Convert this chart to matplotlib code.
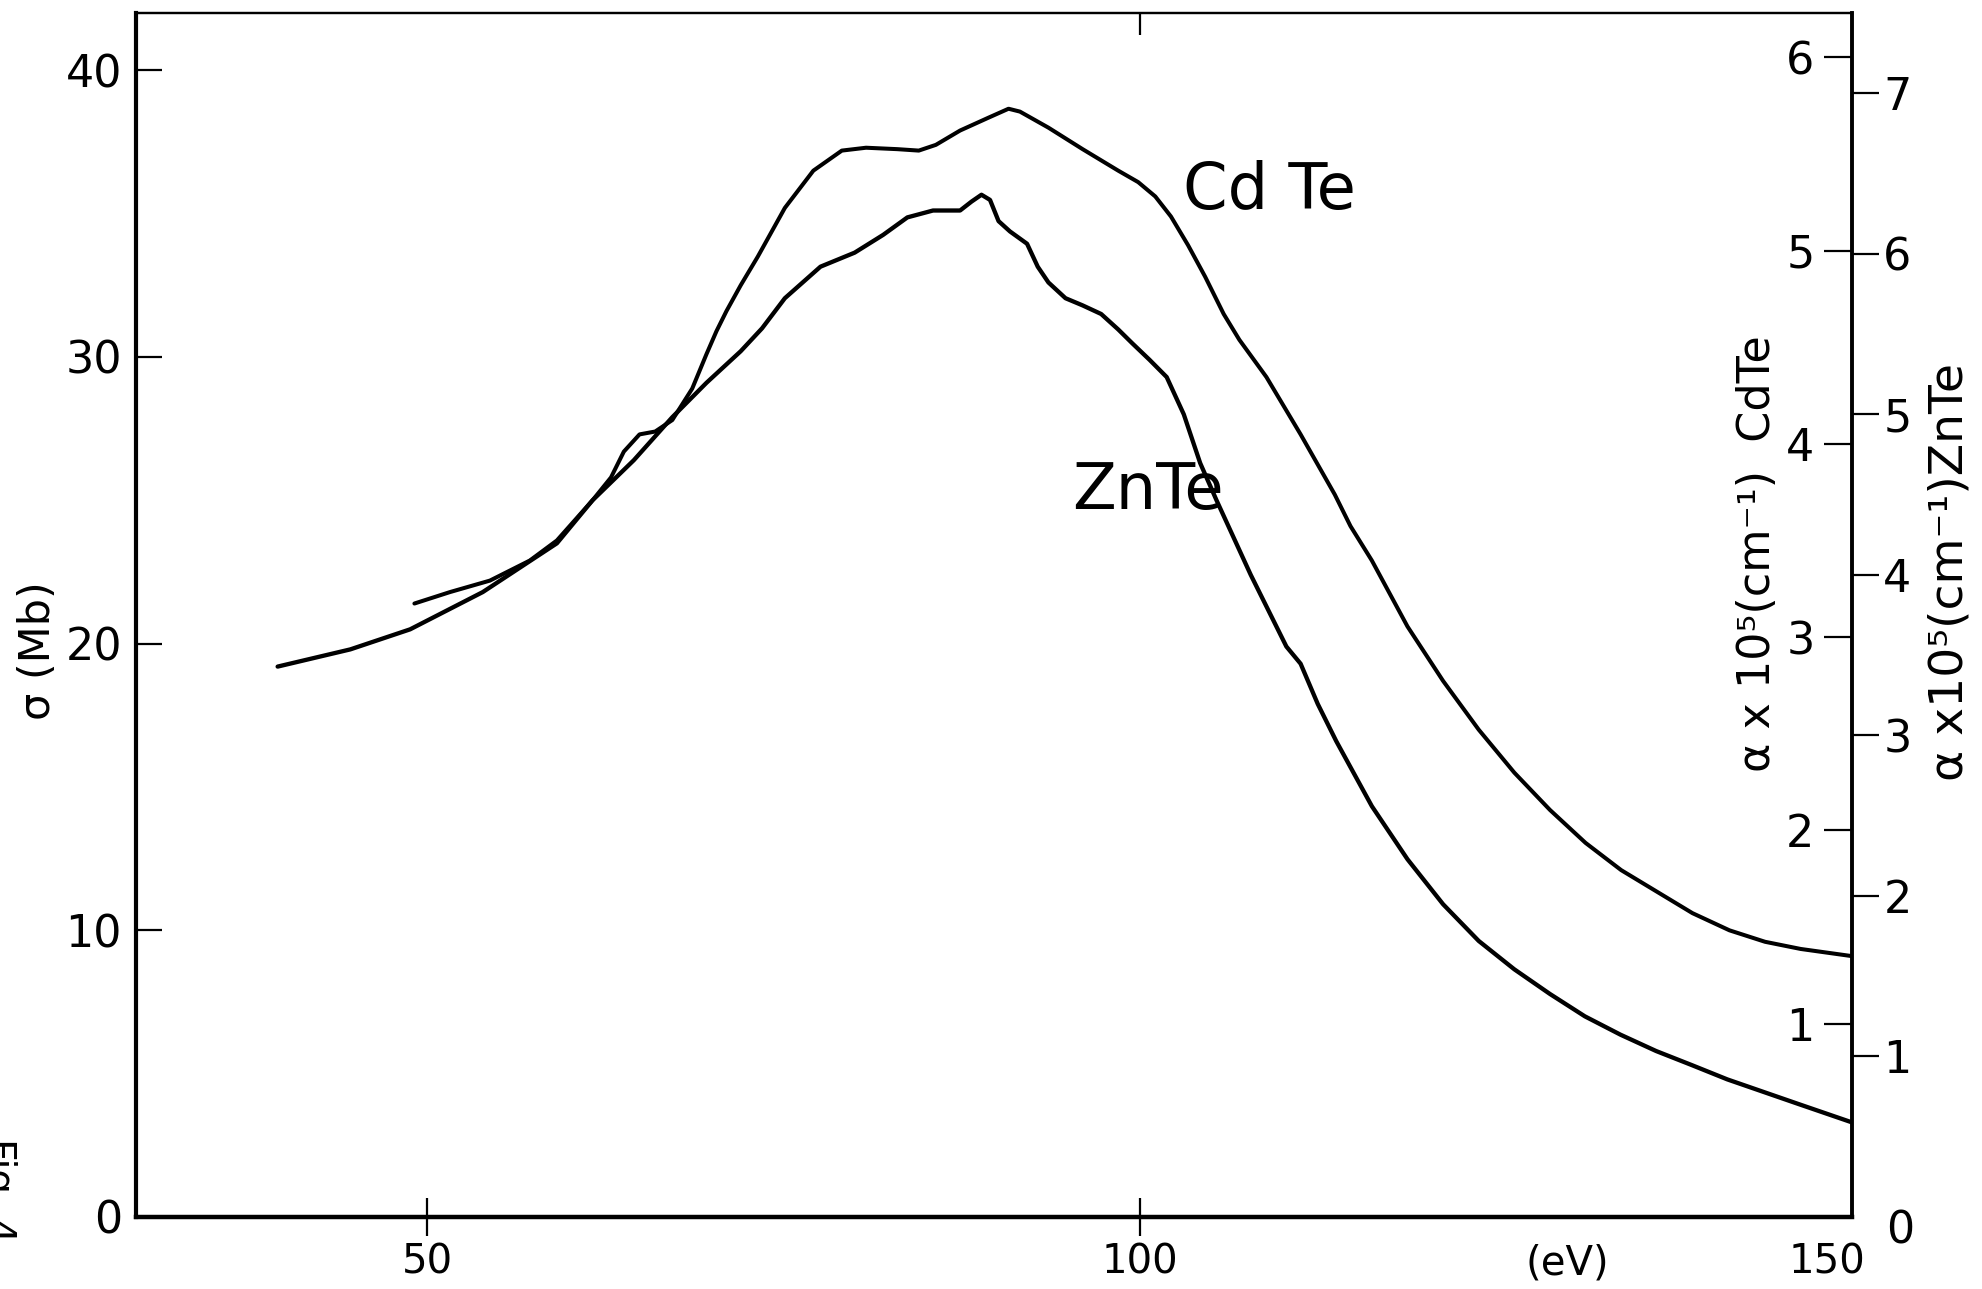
import matplotlib
matplotlib.use('Agg')
import matplotlib.pyplot as plt
import matplotlib.transforms as mtransforms

plt.rcParams['font.family'] = ['DejaVu Sans']

# ---- data (photon energy in eV, sigma in Mb) ----
energy_cdte = [49.1, 51.6, 54.4, 57.2, 59.1, 61.6, 62.9, 63.8, 64.9, 66.0,
               67.2, 68.6, 69.6, 70.3, 71.0, 72.0, 73.2, 75.1, 77.1, 79.1, 80.8,
               83.0, 84.5, 85.7, 87.4, 89.4, 90.8, 91.6, 93.6, 96.0, 98.5,
               99.9, 101.1, 102.2, 103.4, 104.6, 105.9, 107.0, 108.9, 111.3, 113.7,
               114.8, 116.3, 118.8, 121.3, 123.8, 126.3, 128.8, 131.3, 133.8, 136.3,
               138.8, 141.4, 143.9, 146.4, 150.0]
sigma_cdte = [21.4, 21.8, 22.2, 22.9, 23.6, 25.0, 25.8, 26.7, 27.3, 27.4,
              27.8, 28.9, 30.1, 30.9, 31.6, 32.5, 33.5, 35.2, 36.5, 37.2, 37.3,
              37.25, 37.2, 37.4, 37.9, 38.35, 38.66, 38.56, 38.0, 37.25, 36.5,
              36.1, 35.6, 34.9, 33.9, 32.8, 31.5, 30.6, 29.3, 27.3, 25.2,
              24.1, 22.9, 20.6, 18.7, 17.0, 15.5, 14.2, 13.05, 12.1, 11.35,
              10.6, 10.0, 9.6, 9.35, 9.1]

energy_znte = [39.5, 44.6, 48.8, 53.9, 59.1, 61.6, 64.5, 67.2, 69.6, 72.0,
               73.5, 75.1, 77.6, 80.0, 82.0, 83.7, 85.5, 87.4, 88.2, 88.9,
               89.5, 90.1, 90.9, 92.1, 92.85, 93.6, 94.8, 96.0, 97.3, 98.5,
               99.5, 100.7, 101.9, 103.1, 104.25, 105.4, 106.6, 107.8, 108.9, 110.3,
               111.3, 112.5, 113.8, 116.3, 118.8, 121.3, 123.8, 126.3, 128.8, 131.25,
               133.75, 136.25, 138.75, 141.25, 143.75, 146.25, 150.0]
sigma_znte = [19.2, 19.8, 20.5, 21.8, 23.5, 25.0, 26.4, 27.9, 29.1, 30.2,
              31.0, 32.05, 33.15, 33.64, 34.26, 34.87, 35.11, 35.11, 35.42, 35.66,
              35.48, 34.74, 34.38, 33.95, 33.15, 32.6, 32.05, 31.8, 31.5, 30.96,
              30.47, 29.9, 29.3, 28.0, 26.3, 25.0, 23.7, 22.4, 21.3, 19.9,
              19.3, 17.9, 16.6, 14.33, 12.48, 10.91, 9.63, 8.64, 7.78, 7.0,
              6.36, 5.79, 5.3, 4.8, 4.37, 3.94, 3.3]

sigma_ticks = [0, 10, 20, 30, 40]
energy_ticks = [50, 100, 150]
energy_tick_labels = ['50', '100', '150']
alpha_cdte_ticks = [1, 2, 3, 4, 5, 6]
alpha_znte_ticks = [0, 1, 2, 3, 4, 5, 6, 7]

# ---- figure ----
fig = plt.figure(figsize=(19.82, 12.89), dpi=100)
ax = fig.add_axes([0.06862, 0.05586, 0.86579, 0.93406])

ax.plot(energy_cdte, sigma_cdte, color='black', lw=2.9,
        solid_capstyle='round', solid_joinstyle='round')
ax.plot(energy_znte, sigma_znte, color='black', lw=3.1,
        solid_capstyle='round', solid_joinstyle='round')

ax.set_xlim(29.56, 150)
ax.set_ylim(0, 42)

ax.set_yticks(sigma_ticks)
ax.tick_params(axis='y', direction='in', length=19, width=1.6, pad=10,
               labelsize=32, left=True, right=False)
ax.set_xticks(energy_ticks)
ax.set_xticklabels(energy_tick_labels)
ax.tick_params(axis='x', direction='inout', length=27, width=1.6, pad=5,
               labelsize=29, top=False)

xt = ax.xaxis.get_major_ticks()
xt[2].tick1line.set_visible(False)
lab150 = xt[2].label1
lab150.set_transform(lab150.get_transform() +
                     mtransforms.ScaledTranslation(-0.25, 0, fig.dpi_scale_trans))

ax.spines['left'].set_linewidth(3.0)
ax.spines['bottom'].set_linewidth(3.2)
ax.spines['top'].set_linewidth(1.6)
ax.spines['right'].set_linewidth(2.8)

ax.set_xlabel('(eV)', fontsize=29)
ax.xaxis.set_label_coords(0.834, -0.0216)

# top tick at 100 eV
sec = ax.secondary_xaxis('top')
sec.set_xticks([100])
sec.tick_params(direction='in', length=16, width=1.6, labeltop=False)
sec.spines['top'].set_linewidth(1.6)

# right axis: alpha CdTe (inner ticks and labels)
ax_cd = ax.twinx()
ax_cd.set_ylim(0, 6.23)
ax_cd.set_yticks(alpha_cdte_ticks)
ax_cd.tick_params(axis='y', direction='in', length=20, width=1.6, pad=-27,
                  labelsize=32)
plt.setp(ax_cd.get_yticklabels(), ha='right')
for sp in ax_cd.spines.values():
    sp.set_visible(False)

# right axis: alpha ZnTe (outer ticks and labels)
ax_zn = ax.twinx()
ax_zn.set_ylim(0, 7.5)
ax_zn.set_yticks(alpha_znte_ticks)
ax_zn.tick_params(axis='y', direction='out', length=19.5, width=1.6, pad=3,
                  labelsize=32)
zt0 = ax_zn.yaxis.get_major_ticks()[0]
zt0.tick2line.set_visible(False)
zt0.label2.set_transform(zt0.label2.get_transform() +
                         mtransforms.ScaledTranslation(0.03, -0.10, fig.dpi_scale_trans))
for sp in ax_zn.spines.values():
    sp.set_visible(False)

# axis titles
ax.text(-0.0571, 0.47, 'σ (Mb)', transform=ax.transAxes, rotation=90,
        ha='center', va='center', fontsize=31)
ax.text(0.9452, 0.551, 'α x 10⁵(cm⁻¹)  CdTe', transform=ax.transAxes,
        rotation=90, ha='center', va='center', fontsize=32)
ax.text(1.057, 0.536, 'α x10⁵(cm⁻¹)ZnTe', transform=ax.transAxes,
        rotation=90, ha='center', va='center', fontsize=34, clip_on=False)

# curve labels
ax.text(109.08, 35.15, 'Cd Te', fontsize=46, ha='center', va='baseline')
ax.text(100.58, 24.71, 'ZnTe', fontsize=46, ha='center', va='baseline')

# partially visible figure caption at the left edge
fig.text(-0.0066, 0.1171, 'Fig. 4', rotation=-90, rotation_mode='anchor',
         ha='left', va='baseline', fontsize=28)

fig.savefig('out.png', dpi=100)
